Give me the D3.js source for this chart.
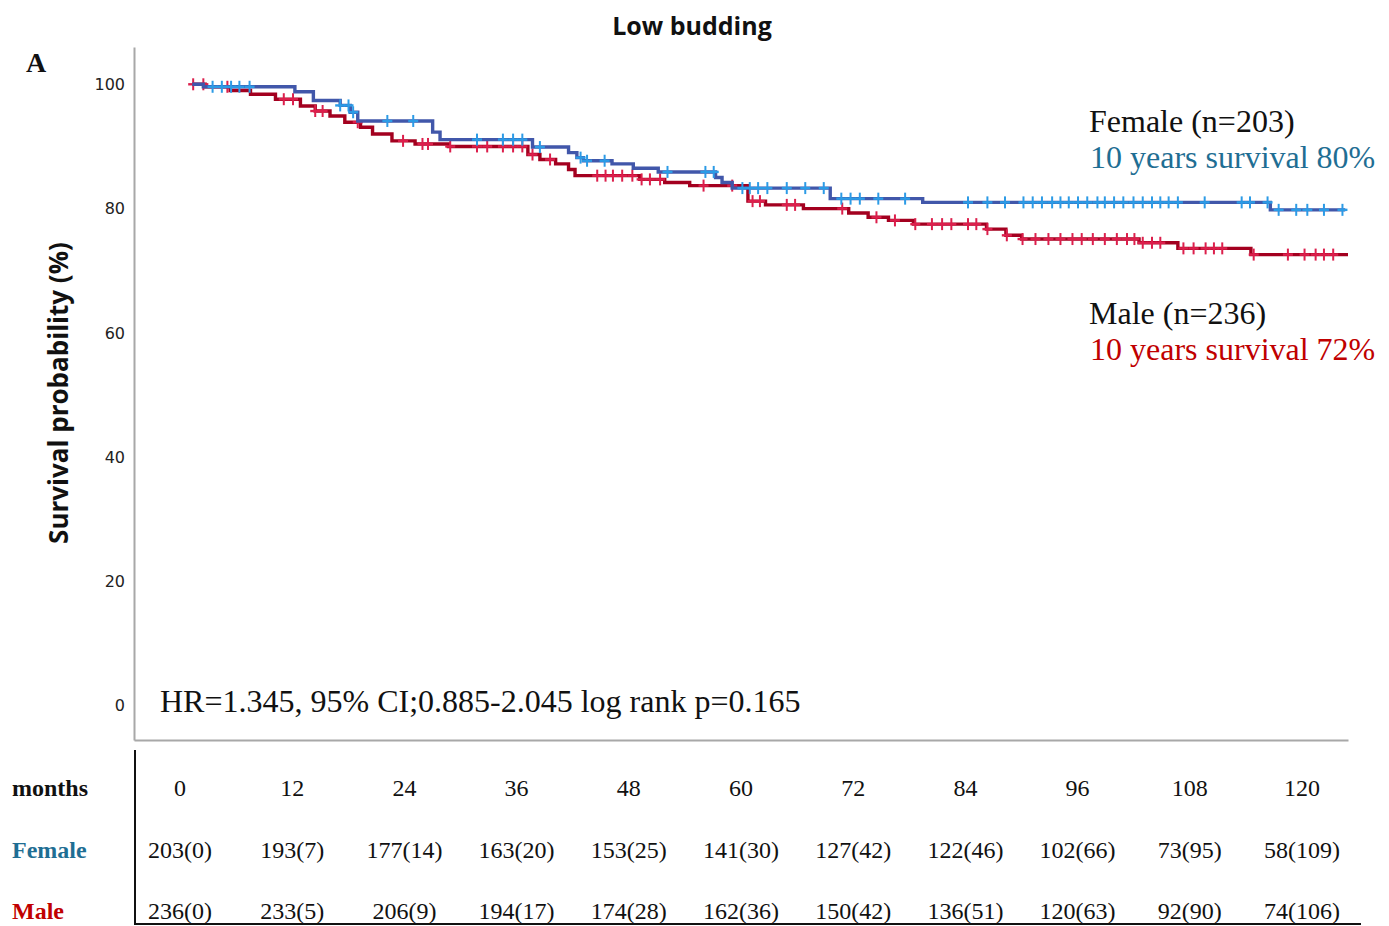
<!DOCTYPE html>
<html>
<head>
<meta charset="utf-8">
<script src="https://cdn.jsdelivr.net/npm/d3@7"></script>
<style>
  html, body { margin: 0; padding: 0; background: #fff; }
  svg { display: block; }
</style>
</head>
<body>
<svg id="chart" width="1389" height="926"></svg>
<script>
// Kaplan–Meier steps: [month, survival %] at each event time
const femaleSteps = [
  [0, 100], [1.2, 99.6], [11.1, 98.8], [13.1, 97.4], [16.0, 96.6], [17.1, 95.5],
  [17.9, 94.1], [26.0, 92.3], [26.8, 91.1], [36.8, 89.9], [40.7, 89.0], [41.6, 88.2],
  [42.3, 87.7], [45.4, 87.2], [47.7, 86.5], [50.4, 85.9], [56.6, 85.0], [57.3, 84.2],
  [58.4, 83.3], [69.0, 81.6], [79.0, 81.0], [116.6, 79.8]
];
const femaleEnd = 124.7;
const femaleCensored = [
  2.2, 3.2, 4.2, 5.1, 6.2, 16.0, 16.9, 17.4, 21.1, 23.9, 30.8, 33.6, 34.7, 35.7,
  37.6, 42.0, 42.7, 44.6, 51.4, 55.5, 56.4, 59.5, 60.3, 61.2, 62.2, 64.3, 66.3,
  68.3, 70.2, 71.2, 72.2, 74.2, 77.1, 83.9, 86.0, 87.9, 89.9, 90.9, 91.9, 93.0,
  93.9, 94.8, 95.8, 96.8, 97.9, 98.7, 99.7, 100.7, 101.8, 102.8, 103.8, 104.7,
  105.6, 106.6, 109.5, 113.5, 114.4, 116.3, 117.5, 119.4, 120.6, 122.4, 124.4
];

const maleSteps = [
  [0, 100], [1.4, 99.6], [4.1, 99.0], [6.3, 98.4], [9.0, 97.6], [11.7, 96.5],
  [13.3, 95.7], [14.9, 94.9], [16.5, 93.9], [18.2, 93.1], [19.5, 92.0], [21.6, 90.9],
  [24.1, 90.4], [27.7, 90.0], [36.3, 88.7], [37.6, 87.9], [39.3, 87.2], [40.7, 86.3],
  [41.4, 85.3], [48.4, 84.7], [51.1, 84.2], [53.8, 83.7], [60.1, 81.2], [62.0, 80.6],
  [66.1, 80.0], [71.0, 79.3], [73.1, 78.6], [75.3, 78.1], [78.0, 77.5], [85.9, 76.7],
  [88.0, 75.7], [89.7, 75.1], [102.4, 74.5], [106.6, 73.6], [114.5, 72.6]
];
const maleEnd = 125;
const maleCensored = [
  0.1, 1.2, 3.8, 9.9, 10.9, 13.3, 14.1, 17.9, 22.8, 24.9, 25.5, 27.9, 30.8, 31.9,
  33.6, 34.7, 35.7, 36.8, 38.7, 43.8, 44.7, 45.5, 46.5, 47.6, 48.6, 49.5, 50.6,
  55.3, 58.4, 60.6, 61.4, 64.3, 65.2, 70.3, 74.0, 76.0, 78.2, 80.0, 81.1, 82.1,
  83.9, 84.8, 86.0, 88.1, 89.8, 91.2, 92.6, 93.9, 95.2, 96.2, 97.4, 98.7, 100.0,
  101.1, 101.9, 102.8, 103.8, 104.7, 107.2, 108.3, 109.6, 110.5, 111.4, 114.8,
  118.5, 120.3, 121.5, 122.4, 123.4
];

// Y axis ticks
const yTicks = [0, 20, 40, 60, 80, 100];

// Number-at-risk table: n(events)
const tableMonths = [0, 12, 24, 36, 48, 60, 72, 84, 96, 108, 120];
const femaleAtRisk = ["203(0)", "193(7)", "177(14)", "163(20)", "153(25)", "141(30)",
  "127(42)", "122(46)", "102(66)", "73(95)", "58(109)"];
const maleAtRisk = ["236(0)", "233(5)", "206(9)", "194(17)", "174(28)", "162(36)",
  "150(42)", "136(51)", "120(63)", "92(90)", "74(106)"];

const title = "Low budding";
const yTitle = "Survival probability (%)";
const statsText = "HR=1.345, 95% CI;0.885-2.045 log rank p=0.165";
const femaleLabel = ["Female (n=203)", "10 years survival 80%"];
const maleLabel = ["Male (n=236)", "10 years survival 72%"];

// ---------- drawing ----------
const svg = d3.select("#chart");
const serif = "'Liberation Serif', 'Times New Roman', serif";
const sans = "'Open Sans', 'Noto Sans', sans-serif";

const colors = {
  femaleLine: "#4157aa", femaleMark: "#2c9be6", femaleText: "#1f6e93",
  maleLine: "#a3001f", maleMark: "#dc1f4c", maleText: "#c00000"
};

const x = d3.scaleLinear().domain([-6.3, 125]).range([134, 1348]);
const y = d3.scaleLinear().domain([-5.5, 106]).range([740, 47]);

// axes
const axisColor = "#a8a8a8";
const yAxis = svg.append("g").attr("transform", `translate(${x(-6.3)},0)`)
  .call(d3.axisLeft(y).tickValues(yTicks).tickSize(0).tickSizeOuter(0).tickPadding(9));
yAxis.select(".domain").attr("stroke", axisColor).attr("stroke-width", 2);
yAxis.selectAll("text")
  .attr("font-family", "'DejaVu Sans', sans-serif")
  .attr("font-size", 16)
  .attr("fill", "#222");

const xAxisLine = svg.append("g").attr("transform", `translate(0,${y(-5.5)})`)
  .call(d3.axisBottom(x).tickValues([]).tickSizeOuter(0));
xAxisLine.select(".domain").attr("stroke", axisColor).attr("stroke-width", 2);

// survival curves
const line = d3.line().curve(d3.curveStepAfter).x(d => x(d[0])).y(d => y(d[1]));

function survivalAt(steps, t) {
  let v = steps[0][1];
  for (const s of steps) { if (s[0] <= t) v = s[1]; else break; }
  return v;
}

function drawCurve(steps, end, censored, lineColor, markColor) {
  const pts = steps.concat([[end, steps[steps.length - 1][1]]]);
  svg.append("path").datum(pts)
    .attr("d", line)
    .attr("fill", "none")
    .attr("stroke", lineColor)
    .attr("stroke-width", 3.4)
    .attr("stroke-linejoin", "miter");
  const g = svg.append("g");
  const marks = g.selectAll("g").data(censored).join("g")
    .attr("transform", t => `translate(${x(t)},${y(survivalAt(steps, t))})`);
  marks.append("line").attr("x1", 0).attr("x2", 0).attr("y1", -6).attr("y2", 6)
    .attr("stroke", markColor).attr("stroke-width", 2);
  marks.append("line").attr("x1", -5).attr("x2", 5).attr("y1", 0).attr("y2", 0)
    .attr("stroke", markColor).attr("stroke-width", 2.4);
}

drawCurve(maleSteps, maleEnd, maleCensored, colors.maleLine, colors.maleMark);
drawCurve(femaleSteps, femaleEnd, femaleCensored, colors.femaleLine, colors.femaleMark);

// title and panel letter
svg.append("text").attr("x", 692).attr("y", 35).attr("text-anchor", "middle")
  .attr("font-family", sans).attr("font-weight", 700).attr("font-size", 25)
  .attr("fill", "#111").text(title);
svg.append("text").attr("x", 26).attr("y", 72)
  .attr("font-family", serif).attr("font-weight", 700).attr("font-size", 28)
  .attr("fill", "#111").text("A");

// y axis title
svg.append("text")
  .attr("transform", "translate(68,393) rotate(-90)")
  .attr("text-anchor", "middle")
  .attr("font-family", sans).attr("font-weight", 700).attr("font-size", 26)
  .attr("fill", "#111").text(yTitle);

// group labels
function groupLabel(lines, yBase, color) {
  svg.append("text").attr("x", 1089).attr("y", yBase)
    .attr("font-family", serif).attr("font-size", 32).attr("fill", "#111").text(lines[0]);
  svg.append("text").attr("x", 1090).attr("y", yBase + 36)
    .attr("font-family", serif).attr("font-size", 32).attr("fill", color).text(lines[1]);
}
groupLabel(femaleLabel, 132, colors.femaleText);
groupLabel(maleLabel, 324, colors.maleText);

// statistics
svg.append("text").attr("x", 160).attr("y", 712)
  .attr("font-family", serif).attr("font-size", 32).attr("fill", "#111").text(statsText);

// number-at-risk table
const tx = d3.scaleLinear().domain([0, 120]).range([180, 1302]);
const rows = [
  { label: "months", color: "#111", cells: tableMonths.map(String), yPos: 796 },
  { label: "Female", color: colors.femaleText, cells: femaleAtRisk, yPos: 858 },
  { label: "Male", color: colors.maleText, cells: maleAtRisk, yPos: 919 }
];
const table = svg.append("g");
rows.forEach(r => {
  table.append("text").attr("x", 12).attr("y", r.yPos)
    .attr("font-family", serif).attr("font-weight", 700).attr("font-size", 24)
    .attr("fill", r.color).text(r.label);
  table.selectAll(null).data(r.cells).join("text")
    .attr("x", (d, i) => tx(tableMonths[i]))
    .attr("y", r.yPos)
    .attr("text-anchor", "middle")
    .attr("font-family", serif).attr("font-size", 24).attr("fill", "#111")
    .text(d => d);
});
table.append("line").attr("x1", 135).attr("x2", 135).attr("y1", 750).attr("y2", 925)
  .attr("stroke", "#111").attr("stroke-width", 2);
table.append("line").attr("x1", 134).attr("x2", 1361).attr("y1", 924).attr("y2", 924)
  .attr("stroke", "#111").attr("stroke-width", 2);
</script>
</body>
</html>
